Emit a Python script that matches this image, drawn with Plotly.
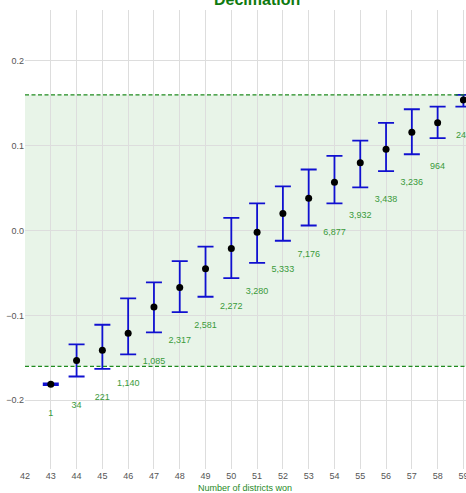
import plotly.graph_objects as go

districts = [43, 44, 45, 46, 47, 48, 49, 50, 51, 52, 53, 54, 55, 56, 57, 58, 59]
center = [-0.181, -0.153, -0.141, -0.121, -0.090, -0.067, -0.045, -0.021, -0.002, 0.020, 0.038, 0.057, 0.080, 0.096, 0.116, 0.127, 0.154]
upper = [-0.180, -0.134, -0.111, -0.080, -0.061, -0.036, -0.019, 0.015, 0.032, 0.052, 0.072, 0.088, 0.106, 0.127, 0.143, 0.146, 0.160]
lower = [-0.182, -0.172, -0.163, -0.146, -0.120, -0.096, -0.078, -0.056, -0.038, -0.012, 0.006, 0.032, 0.051, 0.070, 0.090, 0.109, 0.146]
counts = ["1", "34", "221", "1,140", "1,085", "2,317", "2,581", "2,272", "3,280", "5,333",
          "7,176", "6,877", "3,932", "3,438", "3,236", "964", "243"]
band = [-0.16, 0.16]
x_ticks = list(range(42, 60))
y_ticks = [-0.2, -0.1, 0.0, 0.1, 0.2]

GREEN = "#1f8a1f"
LABEL_GREEN = "#3a9a3a"

fig = go.Figure()

fig.add_trace(go.Scatter(
    x=districts, y=center, mode="markers",
    marker=dict(color="black", size=7),
    error_y=dict(type="data", symmetric=False,
                 array=[u - c for u, c in zip(upper, center)],
                 arrayminus=[c - l for c, l in zip(center, lower)],
                 color="#1010d0", thickness=1.8, width=8),
    showlegend=False, hoverinfo="skip", cliponaxis=False,
))

fig.add_trace(go.Scatter(
    x=districts, y=[l - 0.034 for l in lower], mode="text",
    text=counts, textposition="middle center",
    textfont=dict(color=LABEL_GREEN, size=9, family="Liberation Sans"),
    showlegend=False, hoverinfo="skip", cliponaxis=False,
))

fig.add_shape(type="rect", xref="paper", x0=0, x1=1, y0=band[0], y1=band[1],
              fillcolor="rgba(0,128,0,0.09)", line=dict(width=0), layer="below")
for b in band:
    fig.add_shape(type="line", xref="paper", x0=0, x1=1, y0=b, y1=b,
                  line=dict(color=GREEN, width=1.3, dash="4px,2.5px"))

fig.add_annotation(text="<b>Decimation</b>", xref="paper", yref="paper",
                   x=(257 - 25) / 441, y=1, yshift=11, xanchor="center", yanchor="middle",
                   showarrow=False,
                   font=dict(size=16, color="#0f7a0f", family="Liberation Sans"))
fig.add_annotation(text="Number of districts won", xref="paper", yref="paper",
                   x=(245 - 25) / 441, y=0, yshift=-19, xanchor="center", yanchor="middle",
                   showarrow=False,
                   font=dict(size=9, color=GREEN, family="Liberation Sans"))

fig.update_layout(
    width=466, height=493,
    margin=dict(l=25, r=0, t=10, b=24, autoexpand=False),
    plot_bgcolor="white", paper_bgcolor="white",
    font=dict(family="Liberation Sans", size=9, color="#555555"),
    xaxis=dict(range=[42, 59.1], tickvals=x_ticks, showgrid=True, gridcolor="#dddddd",
               gridwidth=1, zeroline=False, showline=False, ticks="", automargin=False,
               ticklabeloverflow="allow",
               tickfont=dict(size=9, color="#555555")),
    yaxis=dict(range=[-0.281, 0.26], tickvals=y_ticks, tickformat=".1f",
               showgrid=True, gridcolor="#dddddd", gridwidth=1, zeroline=False,
               showline=False, ticks="", automargin=False,
               tickfont=dict(size=9, color="#555555")),
)

fig.write_html("out.html", config={"displayModeBar": False},
               post_script="document.body.style.margin='0';")
